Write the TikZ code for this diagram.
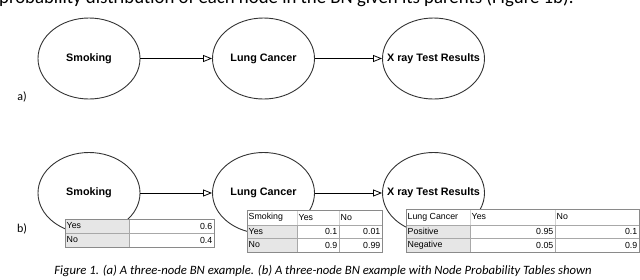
\documentclass[tikz,border=0pt]{standalone}
\usepackage{fontspec}
\setmainfont{Carlito}
\newfontfamily\arialf{Liberation Sans}
\usetikzlibrary{shapes.geometric,arrows.meta}
\definecolor{cellgray}{HTML}{E6E6E6}
\definecolor{tabline}{HTML}{A8A8A8}
\definecolor{taborder}{HTML}{8A8A8A}
\definecolor{hdrline}{HTML}{D4D4D4}
\definecolor{ellline}{HTML}{333333}
\tikzset{
  bnnode/.style={ellipse, draw=ellline, line width=0.9pt, minimum width=102pt, minimum height=81pt, inner sep=0pt,
    label={[font=\arialf\bfseries\fontsize{10.8}{12}\selectfont, inner sep=0pt]center:#1}},
  bnarrow/.style={line width=0.8pt, -{Triangle[open, length=9pt, width=7pt, line width=0.8pt]}},
  cellbase/.style={rectangle, anchor=north west, inner sep=0pt, outer sep=0pt, draw=tabline, line width=0.7pt},
  gcell/.style={cellbase, fill=cellgray},
  wcell/.style={cellbase, fill=white},
  hcell/.style={cellbase, fill=white, draw=hdrline},
  ltext/.style={font=\arialf\fontsize{8.8}{10}\selectfont, inner sep=1.5pt},
}
\begin{document}
\begin{tikzpicture}[x=1pt, y=-1pt]
\useasboundingbox (0,0) rectangle (640,279);
\begin{scope}
\clip (0,0) rectangle (640,279);
\node[anchor=base west, inner sep=0pt, font=\fontsize{18.8}{21}\selectfont] (toptext) at (-1,3.5) {probability distribution of each node in the BN given its parents (Figure 1b).};
\end{scope}

% ---- (a)
\node[bnnode=Smoking] (sa) at (89,58.5) {};
\node[bnnode=Lung Cancer] (la) at (263.5,58.5) {};
\node[bnnode=X ray Test Results] (xa) at (433.5,58.5) {};
\draw[bnarrow] (sa) -- (la);
\draw[bnarrow] (la) -- (xa);
\node[font=\fontsize{12}{14}\selectfont] (alab) at (22,97) {a)};

% ---- (b)
\node[bnnode=Smoking] (sb) at (89,193) {};
\node[bnnode=Lung Cancer] (lb) at (263.5,193) {};
\node[bnnode=X ray Test Results] (xb) at (433.5,193) {};
\draw[bnarrow] (sb) -- (lb);
\draw[bnarrow] (lb) -- (xb);
\node[font=\fontsize{12}{14}\selectfont] (blab) at (22,229) {b)};

% table 1
\node[gcell, minimum width=64pt, minimum height=14pt, label={[ltext, anchor=west]west:Yes}] (t1a) at (65,219) {};
\node[wcell, minimum width=85pt, minimum height=14pt, label={[ltext, anchor=east]east:0.6}] (t1b) at (129,219) {};
\node[gcell, minimum width=64pt, minimum height=14pt, label={[ltext, anchor=west]west:No}] (t1c) at (65,233) {};
\node[wcell, minimum width=85pt, minimum height=14pt, label={[ltext, anchor=east]east:0.4}] (t1d) at (129,233) {};
\draw[taborder, line width=0.8pt] (t1a.north west) rectangle (t1d.south east);

% table 2
\node[hcell, minimum width=50pt, minimum height=15pt, label={[ltext, anchor=west]west:Smoking}] (t2h1) at (247,210) {};
\node[hcell, minimum width=42pt, minimum height=15pt, label={[ltext, anchor=west]west:Yes}] (t2h2) at (297,210) {};
\node[hcell, minimum width=43pt, minimum height=15pt, label={[ltext, anchor=west]west:No}] (t2h3) at (339,210) {};
\node[gcell, minimum width=50pt, minimum height=13pt, label={[ltext, anchor=west]west:Yes}] (t2a) at (247,225) {};
\node[wcell, minimum width=42pt, minimum height=13pt, label={[ltext, anchor=east]east:0.1}] (t2b) at (297,225) {};
\node[wcell, minimum width=43pt, minimum height=13pt, label={[ltext, anchor=east]east:0.01}] (t2c) at (339,225) {};
\node[gcell, minimum width=50pt, minimum height=14pt, label={[ltext, anchor=west]west:No}] (t2d) at (247,238) {};
\node[wcell, minimum width=42pt, minimum height=14pt, label={[ltext, anchor=east]east:0.9}] (t2e) at (297,238) {};
\node[wcell, minimum width=43pt, minimum height=14pt, label={[ltext, anchor=east]east:0.99}] (t2f) at (339,238) {};
\draw[taborder, line width=0.8pt] (t2h1.north west) rectangle (t2f.south east);

% table 3
\node[hcell, minimum width=64pt, minimum height=16pt, label={[ltext, anchor=west]west:Lung Cancer}] (t3h1) at (406,209) {};
\node[hcell, minimum width=85pt, minimum height=16pt, label={[ltext, anchor=west]west:Yes}] (t3h2) at (470,209) {};
\node[hcell, minimum width=84pt, minimum height=16pt, label={[ltext, anchor=west]west:No}] (t3h3) at (555,209) {};
\node[gcell, minimum width=64pt, minimum height=13pt, label={[ltext, anchor=west]west:Positive}] (t3a) at (406,225) {};
\node[wcell, minimum width=85pt, minimum height=13pt, label={[ltext, anchor=east]east:0.95}] (t3b) at (470,225) {};
\node[wcell, minimum width=84pt, minimum height=13pt, label={[ltext, anchor=east]east:0.1}] (t3c) at (555,225) {};
\node[gcell, minimum width=64pt, minimum height=14pt, label={[ltext, anchor=west]west:Negative}] (t3d) at (406,238) {};
\node[wcell, minimum width=85pt, minimum height=14pt, label={[ltext, anchor=east]east:0.05}] (t3e) at (470,238) {};
\node[wcell, minimum width=84pt, minimum height=14pt, label={[ltext, anchor=east]east:0.9}] (t3f) at (555,238) {};
\draw[taborder, line width=0.8pt] (t3h1.north west) rectangle (t3f.south east);

% caption
\node[font=\itshape\fontsize{12.7}{14}\selectfont] (cap) at (323,271) {Figure 1. (a) A three-node BN example. (b) A three-node BN example with Node Probability Tables shown};
\end{tikzpicture}
\end{document}
